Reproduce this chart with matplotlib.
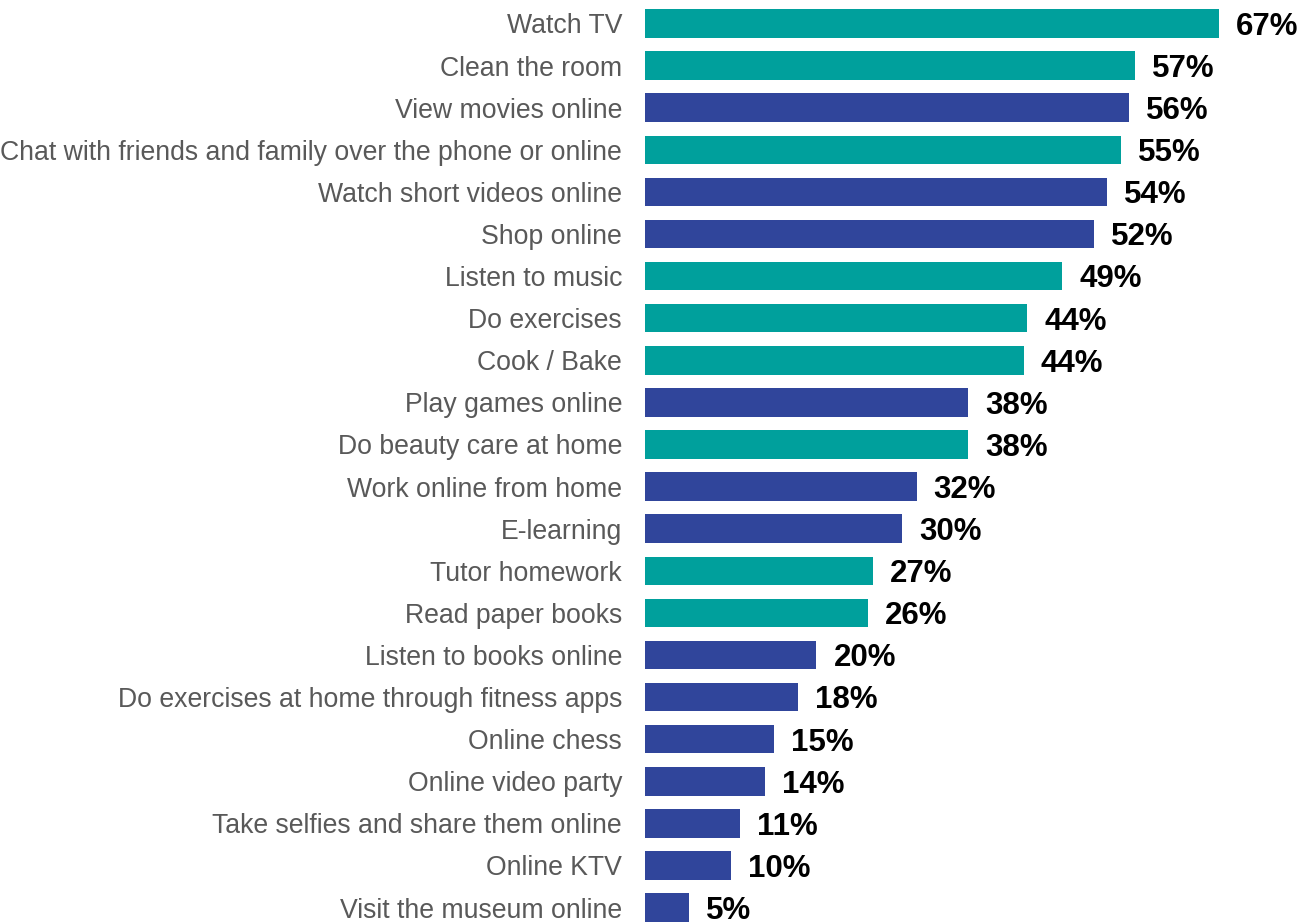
import matplotlib.pyplot as plt

# activities, top to bottom
activities = [
    "Watch TV", "Clean the room", "View movies online",
    "Chat with friends and family over the phone or online",
    "Watch short videos online", "Shop online", "Listen to music",
    "Do exercises", "Cook / Bake", "Play games online",
    "Do beauty care at home", "Work online from home", "E-learning",
    "Tutor homework", "Read paper books", "Listen to books online",
    "Do exercises at home through fitness apps", "Online chess",
    "Online video party", "Take selfies and share them online",
    "Online KTV", "Visit the museum online",
]
# bar lengths (%)
values = [67.0, 57.2, 56.5, 55.6, 53.9, 52.4, 48.7, 44.6, 44.2, 37.7, 37.7,
          31.7, 30.0, 26.6, 26.0, 20.0, 17.9, 15.1, 14.0, 11.1, 10.0, 5.1]
# printed labels
pct_labels = ["67%", "57%", "56%", "55%", "54%", "52%", "49%", "44%", "44%",
              "38%", "38%", "32%", "30%", "27%", "26%", "20%", "18%", "15%",
              "14%", "11%", "10%", "5%"]
# offline (teal) vs online (navy)
group = ["off", "off", "on", "off", "on", "on", "off", "off", "off", "on",
         "off", "on", "on", "off", "off", "on", "on", "on", "on", "on", "on", "on"]

TEAL = "#00A09C"
NAVY = "#30459B"
colors = [TEAL if g == "off" else NAVY for g in group]

plt.rcParams['font.family'] = ['Liberation Sans', 'DejaVu Sans']

fig = plt.figure(figsize=(13.07, 9.23), dpi=100)
ax = fig.add_axes([645 / 1307, 0, 662 / 1307, 1])

pos = list(range(len(activities)))
ax.barh(pos, values, height=0.677, color=colors)

for p, v, lab in zip(pos, values, pct_labels):
    ax.text(v + 2.0, p + 0.08, lab, va="center", ha="left",
            fontsize=22.5, fontweight="bold", color="black")

ax.set_yticks(pos)
ax.set_yticklabels(activities, fontsize=19.2, color="#595959")
ax.tick_params(axis="y", length=0, pad=16.5)
ax.set_xticks([])
ax.set_xlim(0, 67 * 662 / 574)
ax.set_ylim(21.366, -0.558)
for s in ax.spines.values():
    s.set_visible(False)

fig.savefig("out.png", dpi=100)
